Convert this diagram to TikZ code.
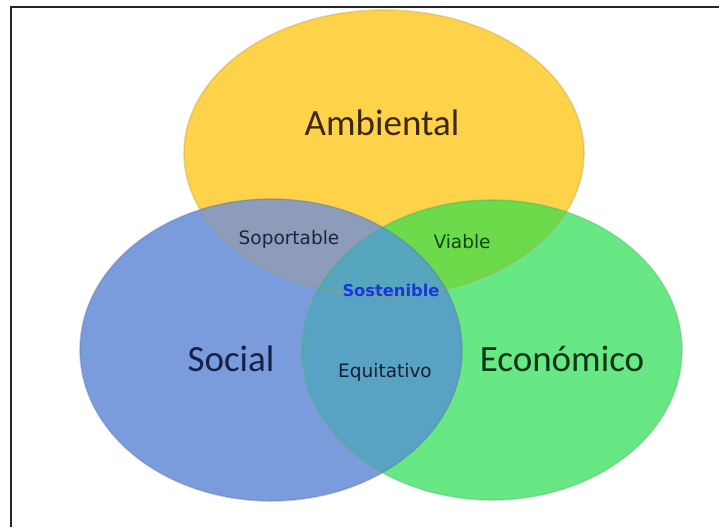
\documentclass[tikz,border=0pt]{standalone}
\usepackage{fontspec}
\newfontfamily\calib{Carlito}
\newfontfamily\dvs{DejaVu Sans}
\definecolor{cY}{RGB}{254,211,74}
\definecolor{cB}{RGB}{122,155,220}
\definecolor{cG}{RGB}{104,232,132}
\definecolor{cYB}{RGB}{140,156,186}
\definecolor{cYG}{RGB}{108,218,74}
\definecolor{cBG}{RGB}{88,162,196}
\definecolor{cYBG}{RGB}{86,166,190}
\tikzset{
  big/.style={font=\calib\fontsize{37}{40}\selectfont, anchor=base, inner sep=0pt},
  small/.style={font=\dvs\fontsize{18.5}{20}\selectfont, anchor=base, inner sep=0pt},
  rim/.style={line width=1.6pt, draw opacity=0.35}
}
\def\ellY{(384,153) ellipse [x radius=200, y radius=143]}
\def\ellB{(271,350) ellipse [x radius=191, y radius=151]}
\def\ellG{(492,350) ellipse [x radius=190, y radius=150]}
\begin{document}
\begin{tikzpicture}[x=1pt,y=-1pt]
\useasboundingbox (0,0) rectangle (719,527);
\fill[white] (0,0) rectangle (719,527);
% circles
\fill[cY] \ellY;
\fill[cB] \ellB;
\fill[cG] \ellG;
\begin{scope}
  \clip \ellY;
  \fill[cYB] \ellB;
  \fill[cYG] \ellG;
\end{scope}
\begin{scope}
  \clip \ellB;
  \fill[cBG] \ellG;
\end{scope}
\begin{scope}
  \clip \ellY;
  \clip \ellB;
  \fill[cYBG] \ellG;
\end{scope}
\draw[rim, cY!75!black] \ellY;
\draw[rim, cB!75!black] \ellB;
\draw[rim, cG!75!black] \ellG;
% frame
\draw[line width=2pt, black!85] (10.5,527) -- (10.5,7) -- (719,7);
% labels
\node[big, text={rgb,255:red,60;green,40;blue,12}] (amb) at (382,135) {Ambiental};
\node[big, text={rgb,255:red,22;green,32;blue,72}] (soc) at (231,371) {Social};
\node[big, text={rgb,255:red,12;green,52;blue,22}] (eco) at (562,371) {Económico};
\node[small, text={rgb,255:red,32;green,36;blue,56}] (sop) at (289,244) {Soportable};
\node[small, text={rgb,255:red,12;green,72;blue,12}] (via) at (462,248) {Viable};
\node[small, font=\dvs\bfseries\fontsize{16.3}{18}\selectfont, text={rgb,255:red,25;green,55;blue,220}] (sos) at (391,296) {Sostenible};
\node[small, text={rgb,255:red,20;green,30;blue,50}] (equ) at (385,377) {Equitativo};
\end{tikzpicture}
\end{document}
